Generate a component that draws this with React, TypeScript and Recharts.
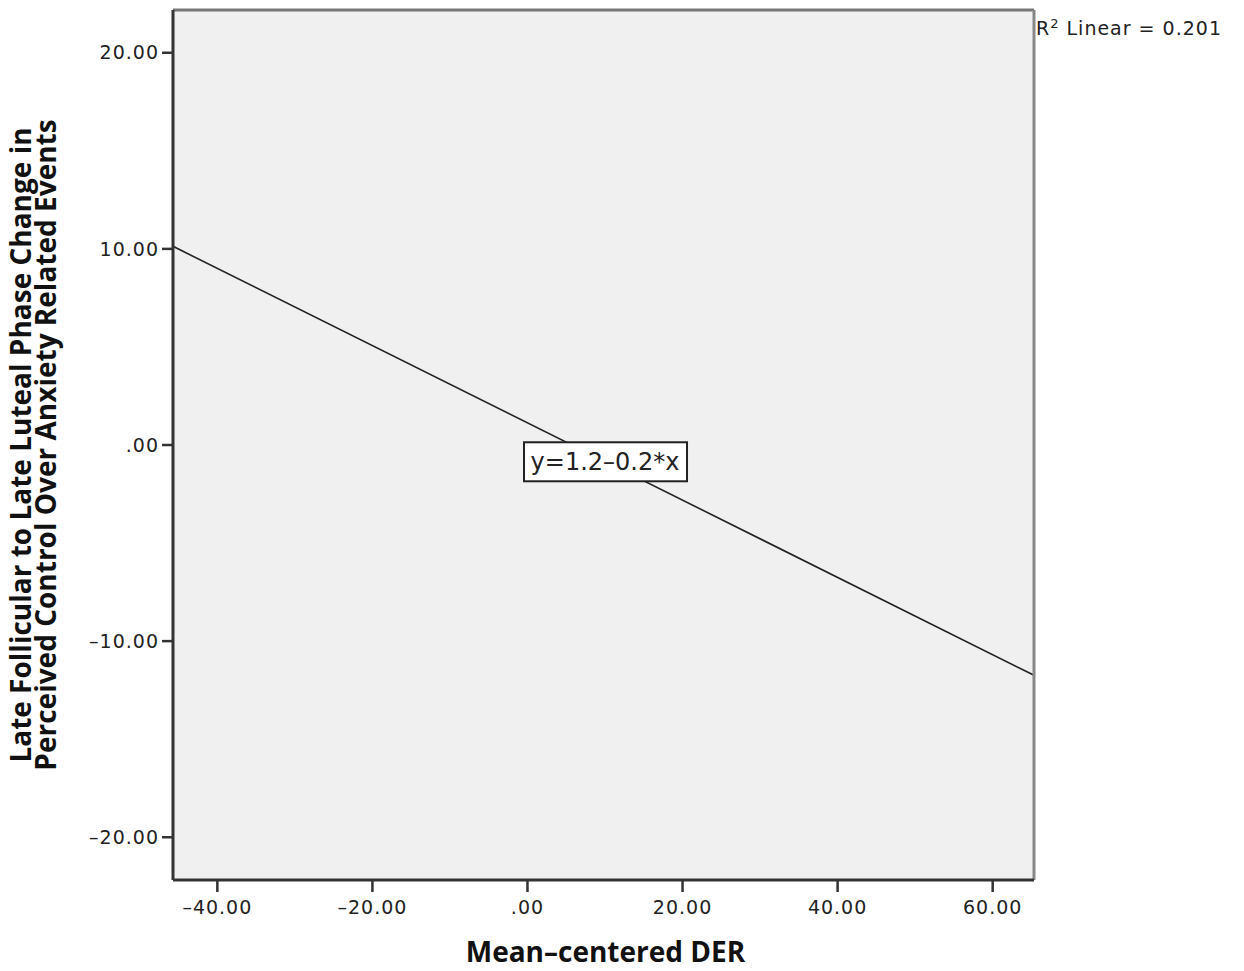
import {
  LineChart, Line, XAxis, YAxis, CartesianGrid, ReferenceDot,
} from 'recharts'

// fit line endpoints
const fitX = [-45.72, 65.33]
const fitY = [10.13, -11.74]

const xTicks = [-40, -20, 0, 20, 40, 60]
const yTicks = [-20, -10, 0, 10, 20]
const xDomain = [-45.72, 65.33]
const yDomain = [-22.18, 22.18]

const eqPos = { x: 10.0, y: -0.83 }
const eqText = 'y=1.2\u20130.2*x'
const r2Text = '0.201'

const yTitle = [
  'Late Follicular to Late Luteal Phase Change in',
  'Perceived Control Over Anxiety Related Events',
]
const xTitle = 'Mean\u2013centered DER'

const data = fitX.map((x, i) => ({ x, y: fitY[i] }))

const fmt = (v: number) =>
  v === 0 ? '.00' : v < 0 ? '\u2013' + Math.abs(v).toFixed(2) : v.toFixed(2)

const tickFont = { fill: '#222', fontSize: 19, fontFamily: 'DejaVu Sans', letterSpacing: 1 }
const titleFont = 'Open Sans'

const YTitle = ({ viewBox }: any) => {
  const cy = viewBox.y + viewBox.height / 2
  return (
    <text
      transform={`translate(${viewBox.x + 31}, ${cy}) rotate(-90)`}
      textAnchor="middle"
      fontFamily={titleFont}
      fontWeight="bold"
      fontSize={28}
      fill="#111"
    >
      <tspan x={0} dy={0}>{yTitle[0]}</tspan>
      <tspan x={0} dy={25}>{yTitle[1]}</tspan>
    </text>
  )
}

const XTitle = ({ viewBox }: any) => (
  <text
    x={viewBox.x + viewBox.width / 2 + 2}
    y={viewBox.y + 82}
    textAnchor="middle"
    fontFamily={titleFont}
    fontWeight="bold"
    fontSize={28}
    fill="#111"
  >
    {xTitle}
  </text>
)

const EqBox = ({ cx, cy }: any) => (
  <g>
    <rect x={cx - 81} y={cy - 19} width={163} height={39} fill="#fff" stroke="#222" strokeWidth={2} />
    <text x={cx} y={cy + 9} textAnchor="middle" fontFamily="DejaVu Sans" fontSize={24} fill="#222">
      {eqText}
    </text>
  </g>
)

export default function App() {
  return (
    <div style={{ position: 'absolute', left: 0, top: 0, width: 1244, height: 971, background: '#fff' }}>
      <LineChart
        width={1244}
        height={971}
        data={data}
        margin={{ top: 9, right: 0, bottom: 0, left: 0 }}
      >
        <CartesianGrid horizontal={false} vertical={false} fill="#f0f0f0" />
        <XAxis
          xAxisId="top"
          orientation="top"
          type="number"
          dataKey="x"
          domain={xDomain}
          height={1}
          tick={false}
          tickLine={false}
          axisLine={{ stroke: '#777', strokeWidth: 3 }}
        />
        <YAxis
          yAxisId="right"
          orientation="right"
          type="number"
          domain={yDomain}
          width={210}
          tick={false}
          tickLine={false}
          axisLine={{ stroke: '#888', strokeWidth: 3 }}
        />
        <XAxis
          type="number"
          dataKey="x"
          domain={xDomain}
          ticks={xTicks}
          tickFormatter={fmt}
          allowDataOverflow
          height={91}
          tick={tickFont}
          tickSize={12}
          tickMargin={9}
          tickLine={{ stroke: '#333', strokeWidth: 2.5 }}
          axisLine={{ stroke: '#333', strokeWidth: 3 }}
          label={<XTitle />}
        />
        <YAxis
          type="number"
          domain={yDomain}
          ticks={yTicks}
          tickFormatter={fmt}
          allowDataOverflow
          width={173}
          tick={tickFont}
          tickSize={11}
          tickMargin={3}
          tickLine={{ stroke: '#333', strokeWidth: 2.5 }}
          axisLine={{ stroke: '#333', strokeWidth: 3 }}
          label={<YTitle />}
        />
        <Line
          type="linear"
          dataKey="y"
          stroke="#222"
          strokeWidth={1.6}
          dot={false}
          isAnimationActive={false}
        />
        <ReferenceDot x={eqPos.x} y={eqPos.y} r={0} shape={<EqBox />} />
      </LineChart>
      <div
        style={{
          position: 'absolute', left: 1036, top: 16,
          fontFamily: 'DejaVu Sans', fontSize: 19, letterSpacing: 1, color: '#222', whiteSpace: 'nowrap',
        }}
      >
        R<sup style={{ fontSize: 13 }}>2</sup> Linear = {r2Text}
      </div>
    </div>
  )
}
